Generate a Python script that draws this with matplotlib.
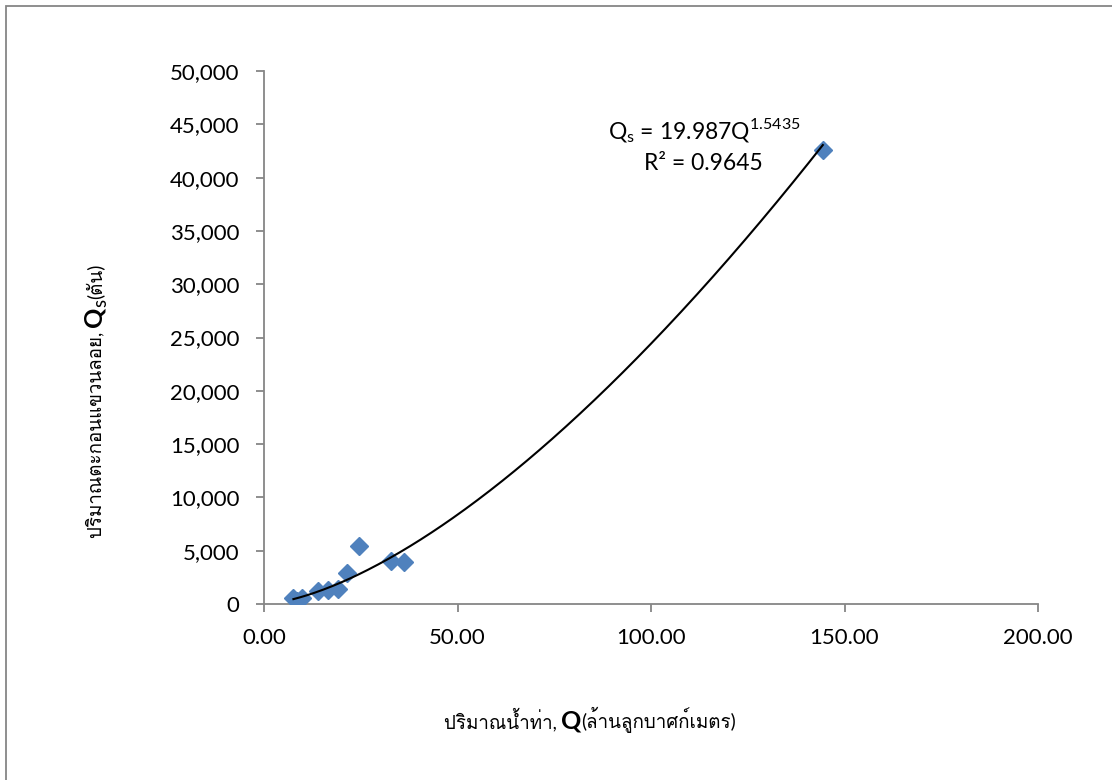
import matplotlib
matplotlib.use("Agg")
import matplotlib.pyplot as plt
from matplotlib import font_manager
from matplotlib.ft2font import FT2Font
from matplotlib.patches import Rectangle
from matplotlib.ticker import FuncFormatter
import numpy as np

# Runoff volume (million m3) and suspended sediment load (tonnes)
runoff = [7.6, 8.6, 9.7, 14.0, 16.6, 19.2, 21.4, 24.5, 32.8, 36.3, 144.4]
sediment = [520, 300, 600, 1200, 1300, 1400, 2900, 5400, 4050, 3900, 42600]

# Power-law rating curve Qs = a * Q^b
coef_a = 19.987
coef_b = 1.5435
r_squared = 0.9645

x_ticks = [0, 50, 100, 150, 200]
y_ticks = [0, 5000, 10000, 15000, 20000, 25000, 30000, 35000, 40000, 45000, 50000]


def find_thai_family():
    for fe in font_manager.fontManager.ttflist:
        try:
            if 0x0E1B in FT2Font(fe.fname).get_charmap():
                return fe.name
        except Exception:
            continue
    return "DejaVu Sans"


thai_family = find_thai_family()
latin_family = "Lato"
families = [latin_family, thai_family, "DejaVu Sans"]
plt.rcParams["font.family"] = families

W, H = 1112, 780
fig = plt.figure(figsize=(W / 100, H / 100), dpi=100)
fig.patch.set_facecolor("white")

# chart area frame
fig.add_artist(Rectangle((6 / W, -0.05), 1.2, 1 - 6 / H + 0.05, transform=fig.transFigure,
                         fill=False, edgecolor="#868686", lw=1.3))

ax = fig.add_axes([264 / W, 1 - 604 / H, (1038 - 264) / W, (604 - 71) / H])
ax.set_xlim(0, 200)
ax.set_ylim(0, 50000)

grey = "#868686"
for side in ("top", "right"):
    ax.spines[side].set_visible(False)
for side in ("left", "bottom"):
    ax.spines[side].set_color(grey)
    ax.spines[side].set_linewidth(1.3)

ax.set_xticks(x_ticks)
ax.set_yticks(y_ticks)
ax.xaxis.set_major_formatter(FuncFormatter(lambda v, p: f"{v:.2f}"))
ax.yaxis.set_major_formatter(FuncFormatter(lambda v, p: f"{v:,.0f}"))
ax.tick_params(axis="both", direction="out", length=5.5, width=1.3, color=grey,
               labelsize=16, pad=12, labelcolor="black")

ax.plot(runoff, sediment, linestyle="none", marker="D", markersize=9.5,
        color="#4F81BD", markeredgecolor="#4F81BD", zorder=3)

q_fit = np.linspace(min(runoff), max(runoff), 300)
ax.plot(q_fit, coef_a * q_fit ** coef_b, color="black", lw=1.5, zorder=4)


# convert top-left pixel coordinates into display coords
def disp(px, py):
    return px, H - py


fig.text(*disp(704, 131),
         r"Q$_{\mathregular{s}}$ = " + f"{coef_a}" + r"Q$^{\mathregular{" + f"{coef_b}" + r"}}$",
         transform=None, ha="center", va="center", fontsize=16.5)
fig.text(*disp(703, 163), f"R² = {r_squared}", transform=None, ha="center", va="center",
         fontsize=16.5)

fig.canvas.draw()
renderer = fig.canvas.get_renderer()

# x-axis title built from pieces of differing style
x_parts = [("ปริมาณน้ำท่า, ", dict(fontsize=13.5)),
           ("Q", dict(fontsize=18, fontweight="bold", family=[latin_family])),
           ("(ล้านลูกบาศก์เมตร)", dict(fontsize=13.5))]
texts = []
for s, kw in x_parts:
    t = fig.text(0, 0, s, transform=None, ha="left", va="baseline", **kw)
    texts.append(t)
widths = [t.get_window_extent(renderer).width for t in texts]
total = sum(widths)
x0 = 590 - total / 2
bx, by = disp(x0, 728)
for t, w in zip(texts, widths):
    t.set_position((bx, by))
    bx += w

# y-axis title, rotated
y_parts = [("ปริมาณตะกอนแขวนลอย, ", dict(fontsize=13.5)),
           ("Q", dict(fontsize=18, fontweight="bold", family=[latin_family])),
           ("s", dict(fontsize=13.5, family=[latin_family])),
           ("(ตัน)", dict(fontsize=13.5))]
ytexts = []
for s, kw in y_parts:
    t = fig.text(0, 0, s, transform=None, ha="left", va="baseline", rotation=90,
                 rotation_mode="anchor", **kw)
    ytexts.append(t)
heights = [t.get_window_extent(renderer).height for t in ytexts]
total_h = sum(heights)
cy = 401
bx, by = disp(101, cy + total_h / 2)
for i, (t, h) in enumerate(zip(ytexts, heights)):
    dx = 5 if y_parts[i][0] == "s" else 0
    t.set_position((bx + dx, by))
    by += h

fig.savefig("out.png", dpi=100, facecolor="white")
